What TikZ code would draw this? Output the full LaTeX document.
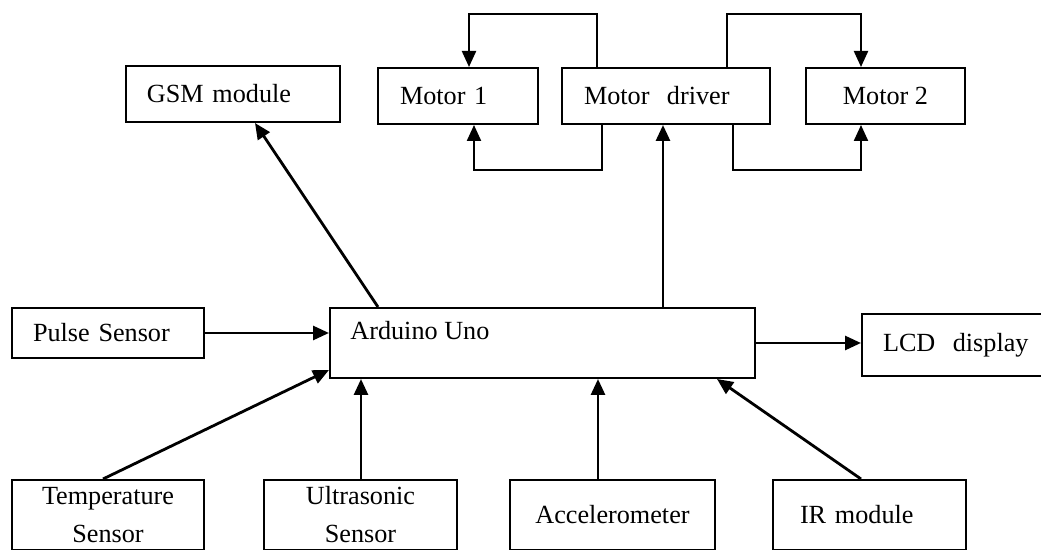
\documentclass[tikz,border=0pt]{standalone}
\usepackage{fontspec}
\setmainfont{Liberation Serif}
\usetikzlibrary{arrows.meta}
\tikzset{block/.style={draw,line width=1pt,inner sep=0pt,minimum height=28pt,anchor=north west,
		font=\fontsize{13.1}{19}\selectfont},
	lblock/.style={block,align=left,inner xsep=10.5pt},
}

\begin{document}
\begin{tikzpicture}[x=0.5pt,y=-0.5pt,>={Triangle[length=8pt,width=7pt]},
		link/.style={->,line width=1.4pt},mloop/.style={->,line width=1.1pt}]
		
		\useasboundingbox (0,0) rectangle (1041,550);
		
		\node[lblock,text width=86pt] (gsm) at (125,65) {GSM module};
		\node[lblock,inner xsep=11pt,text width=58pt] (mone) at (377,67) {Motor 1};
		\node[lblock,inner xsep=11pt,text width=82pt] (driver) at (561,67) {Motor~ driver};
		\node[block,minimum width=79.5pt] (mtwo) at (805,67) {Motor 2};
		
		\node[block,minimum width=212.5pt,minimum height=35pt] (arduino) at (329,307) {};
		\node[anchor=west,inner sep=0pt,font=\fontsize{13.1}{19}\selectfont] (ardtext)
			at ([xshift=10.5pt,yshift=-12pt]arduino.north west) {Arduino Uno};
		\node[lblock,text width=75pt,minimum height=25pt] (pulse) at (11,307) {Pulse Sensor};
		\node[lblock,text width=74pt,minimum height=31pt] (lcd) at (861,313) {LCD~ display};
		
		\node[block,minimum width=96pt,minimum height=35pt,align=center] (temp) at (11,479) {Temperature\\Sensor};
		\node[block,minimum width=96.5pt,minimum height=35pt,align=center] (ultra) at (263,479) {Ultrasonic\\Sensor};
		\node[block,minimum width=102.5pt,minimum height=35pt] (accel) at (509,479) {Accelerometer};
		\node[lblock,inner xsep=13.5pt,text width=69.5pt,minimum height=35pt] (ir) at (772,479) {IR module};
		
		\coordinate (ardtop) at ([xshift=167pt]arduino.north west);
		\coordinate (ultratop) at ([xshift=49pt]ultra.north west);
		\coordinate (acceltop) at ([xshift=44.5pt]accel.north west);
		
		\path[link]
		([xshift=24.5pt]arduino.north west) edge ([xshift=65pt]gsm.south west)
		(ardtop) edge (ardtop |- driver.south)
		(pulse.east) edge (pulse.east -| arduino.west)
		(arduino.east) edge (arduino.east -| lcd.west)
		([xshift=46pt]temp.north west) edge ([yshift=4.5pt]arduino.south west)
		(ultratop) edge (ultratop |- arduino.south)
		(acceltop) edge (acceltop |- arduino.south)
		([xshift=44.5pt]ir.north west) edge ([xshift=-19.5pt]arduino.south east)
		;
		
		\draw[mloop] ([xshift=18pt]driver.north west) -- ++(0,26.5pt) -| ([xshift=46pt]mone.north west);
		\draw[mloop] ([xshift=20.5pt]driver.south west) -- ++(0,-22.5pt) -| ([xshift=48.5pt]mone.south west);
		\draw[mloop] ([xshift=83pt]driver.north west) -- ++(0,26.5pt) -| ([xshift=28pt]mtwo.north west);
		\draw[mloop] ([xshift=86pt]driver.south west) -- ++(0,-22.5pt) -| ([xshift=28pt]mtwo.south west);
		
\end{tikzpicture}
\end{document}
